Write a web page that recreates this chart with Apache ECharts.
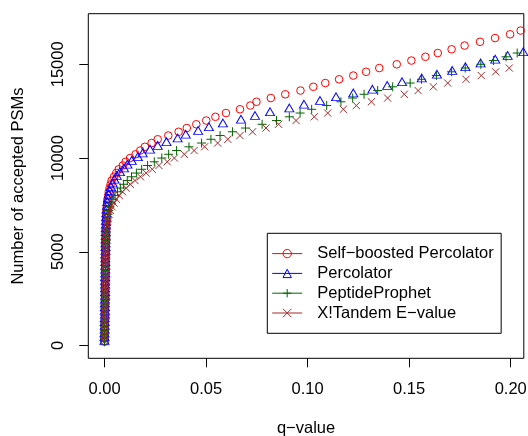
<!DOCTYPE html>
<html><head><meta charset="utf-8">
<script src="https://cdn.jsdelivr.net/npm/echarts@6/dist/echarts.min.js"></script>
<style>html,body{margin:0;padding:0;background:#fff}#c{width:528px;height:436px}</style>
</head><body><div id="c"></div>
<script>
// Number of accepted PSMs (y) at which each q-value (x) was measured
const psmCounts = [
  200,400,600,800,1000,1200,1400,1600,1800,2000,
  2200,2400,2600,2800,3000,3200,3400,3600,3800,4000,
  4200,4400,4600,4800,5000,5200,5400,5600,5800,6000,
  6200,6400,6600,6800,7000,7200,7400,7600,7800,8000,
  8200,8400,8600,8800,9000,9200,9400,9600,9800,10000,
  10200,10400,10600,10800,11000,11200,11400,11600,11800,12000,
  12200,12400,12600,12800,13000,13200,13400,13600,13800,14000,
  14200,14400,14600,14800,15000,15200,15400,15600,15800,16000,
  16200,16400,16600,16800];

const seriesNames = ['Self\u2212boosted Percolator','Percolator','PeptideProphet','X!Tandem E\u2212value'];

const selfBoostedQ = [
  0.0000,0.0000,0.0001,0.0001,0.0001,0.0001,0.0002,0.0002,0.0002,0.0002,
  0.0002,0.0003,0.0003,0.0003,0.0003,0.0003,0.0003,0.0004,0.0004,0.0004,
  0.0004,0.0004,0.0004,0.0005,0.0005,0.0005,0.0005,0.0005,0.0006,0.0006,
  0.0006,0.0007,0.0007,0.0008,0.0009,0.0010,0.0011,0.0013,0.0015,0.0018,
  0.0021,0.0025,0.0030,0.0035,0.0047,0.0058,0.0070,0.0090,0.0104,0.0126,
  0.0153,0.0176,0.0199,0.0232,0.0262,0.0314,0.0365,0.0405,0.0452,0.0501,
  0.0546,0.0598,0.0667,0.0718,0.0748,0.0819,0.0890,0.0965,0.1028,0.1087,
  0.1155,0.1225,0.1288,0.1353,0.1439,0.1511,0.1580,0.1641,0.1709,0.1773,
  0.1849,0.1923,0.1997,0.2049];

const percolatorQ = [
  0.0000,0.0000,0.0000,0.0001,0.0001,0.0001,0.0001,0.0002,0.0002,0.0002,
  0.0002,0.0002,0.0003,0.0003,0.0003,0.0003,0.0003,0.0003,0.0004,0.0004,
  0.0004,0.0004,0.0004,0.0004,0.0005,0.0005,0.0005,0.0005,0.0006,0.0006,
  0.0006,0.0007,0.0007,0.0008,0.0009,0.0010,0.0012,0.0014,0.0017,0.0021,
  0.0026,0.0032,0.0040,0.0049,0.0060,0.0076,0.0096,0.0113,0.0134,0.0164,
  0.0188,0.0224,0.0262,0.0305,0.0360,0.0400,0.0461,0.0514,0.0583,0.0672,
  0.0741,0.0815,0.0910,0.0982,0.1061,0.1140,0.1225,0.1319,0.1392,0.1465,
  0.1562,0.1637,0.1712,0.1777,0.1852,0.1924,0.1985,0.2062];

const peptideProphetQ = [
  0.0000,0.0000,0.0001,0.0001,0.0001,0.0001,0.0002,0.0002,0.0002,0.0002,
  0.0003,0.0003,0.0003,0.0003,0.0003,0.0004,0.0004,0.0004,0.0004,0.0004,
  0.0005,0.0005,0.0005,0.0005,0.0006,0.0006,0.0006,0.0007,0.0007,0.0008,
  0.0009,0.0010,0.0012,0.0014,0.0017,0.0021,0.0027,0.0034,0.0042,0.0052,
  0.0064,0.0078,0.0094,0.0112,0.0133,0.0157,0.0183,0.0212,0.0245,0.0282,
  0.0316,0.0355,0.0416,0.0478,0.0524,0.0569,0.0630,0.0694,0.0776,0.0847,
  0.0910,0.0963,0.1020,0.1094,0.1164,0.1222,0.1278,0.1345,0.1419,0.1505,
  0.1561,0.1634,0.1709,0.1776,0.1853,0.1915,0.1977,0.2032];

const xTandemQ = [
  0.0000,0.0001,0.0001,0.0001,0.0001,0.0002,0.0002,0.0002,0.0002,0.0003,
  0.0003,0.0003,0.0003,0.0004,0.0004,0.0004,0.0004,0.0005,0.0005,0.0005,
  0.0005,0.0006,0.0006,0.0006,0.0007,0.0007,0.0008,0.0008,0.0009,0.0010,
  0.0011,0.0013,0.0015,0.0018,0.0022,0.0029,0.0037,0.0047,0.0059,0.0073,
  0.0089,0.0107,0.0127,0.0150,0.0177,0.0205,0.0235,0.0268,0.0309,0.0344,
  0.0393,0.0441,0.0493,0.0557,0.0607,0.0667,0.0729,0.0795,0.0857,0.0943,
  0.1033,0.1099,0.1176,0.1240,0.1314,0.1394,0.1476,0.1544,0.1619,0.1690,
  0.1780,0.1855,0.1926,0.1993,0.2067];

const xTickValues = [0, 0.05, 0.10, 0.15, 0.20];
const yTickValues = [0, 5000, 10000, 15000];

const FONT = "'Liberation Sans', Arial, Helvetica, sans-serif";
const FS = 16.5;
const colors = ['#FF0000', '#0000FF', '#006400', '#A52A2A'];
const symbols = [
  'circle',
  'triangle',
  'path://M0,5L10,5M5,0L5,10',
  'path://M0,0L10,10M0,10L10,0'
];
const symbolSizes = [7.6, [9, 7.8], 9, 7.2];
const symbolOffsets = [[0,0],[0,-1.3],[0,0],[0,0]];
const qLists = [selfBoostedQ, percolatorQ, peptideProphetQ, xTandemQ];

const series = qLists.map((ql, i) => ({
  name: seriesNames[i],
  type: 'line',
  data: ql.map((q, k) => [q, psmCounts[k]]),
  showSymbol: true,
  showAllSymbol: true,
  symbol: symbols[i],
  symbolSize: symbolSizes[i],
  symbolOffset: symbolOffsets[i],
  itemStyle: { color: 'transparent', borderColor: colors[i], borderWidth: 1 },
  lineStyle: { color: colors[i], width: 0, opacity: 0 },
  emphasis: { disabled: true },
  clip: true,
  z: 2 + i
}));

const chart = echarts.init(document.getElementById('c'), null, { renderer: 'canvas' });
chart.setOption({
  animation: false,
  backgroundColor: '#fff',
  grid: {
    left: 88.3, right: 4.2, top: 13.7, bottom: 77.7,
    containLabel: false,
    outerBoundsMode: 'none',
    show: true, borderColor: '#000', borderWidth: 1, backgroundColor: 'transparent'
  },
  xAxis: {
    type: 'value',
    min: -0.00798, max: 0.20645,
    name: 'q\u2212value',
    nameLocation: 'middle',
    nameGap: 61.8,
    nameTextStyle: { fontFamily: FONT, fontSize: FS, color: '#000' },
    axisLine: { show: false, onZero: false },
    splitLine: { show: false },
    axisTick: { show: true, inside: false, length: 9, customValues: xTickValues, lineStyle: { color: '#000', width: 1 } },
    axisLabel: {
      show: true, inside: false, customValues: xTickValues, margin: 23,
      fontFamily: FONT, fontSize: FS, color: '#000',
      formatter: v => v.toFixed(2)
    }
  },
  yAxis: {
    type: 'value',
    min: -683, max: 17699,
    name: 'Number of accepted PSMs',
    nameLocation: 'middle',
    nameGap: 61.3,
    nameRotate: 90,
    nameTextStyle: { fontFamily: FONT, fontSize: FS, color: '#000' },
    axisLine: { show: false, onZero: false },
    splitLine: { show: false },
    axisTick: { show: true, inside: false, length: 9, customValues: yTickValues, lineStyle: { color: '#000', width: 1 } },
    axisLabel: {
      show: true, inside: false, customValues: yTickValues, margin: 21.8, rotate: 90,
      fontFamily: FONT, fontSize: FS, color: '#000',
      formatter: v => String(v)
    }
  },
  legend: {
    show: true,
    orient: 'vertical',
    left: 267.3, top: 233.3,
    align: 'left',
    padding: [10.4, 7.4, 10.4, 4.4],
    borderColor: '#000', borderWidth: 1, borderRadius: 0,
    backgroundColor: 'transparent',
    itemWidth: 30, itemHeight: 10.5, itemGap: 0,
    selectedMode: false,
    textStyle: { fontFamily: FONT, fontSize: FS, color: '#000', lineHeight: 19.8, padding: [0, 0, 0, 10] },
    data: seriesNames.map((n, i) => ({
      name: n,
      lineStyle: { color: colors[i], width: 1, opacity: 1 },
      itemStyle: { color: 'transparent', borderColor: colors[i], borderWidth: 1 }
    }))
  },
  series: series
});
</script>
</body></html>
